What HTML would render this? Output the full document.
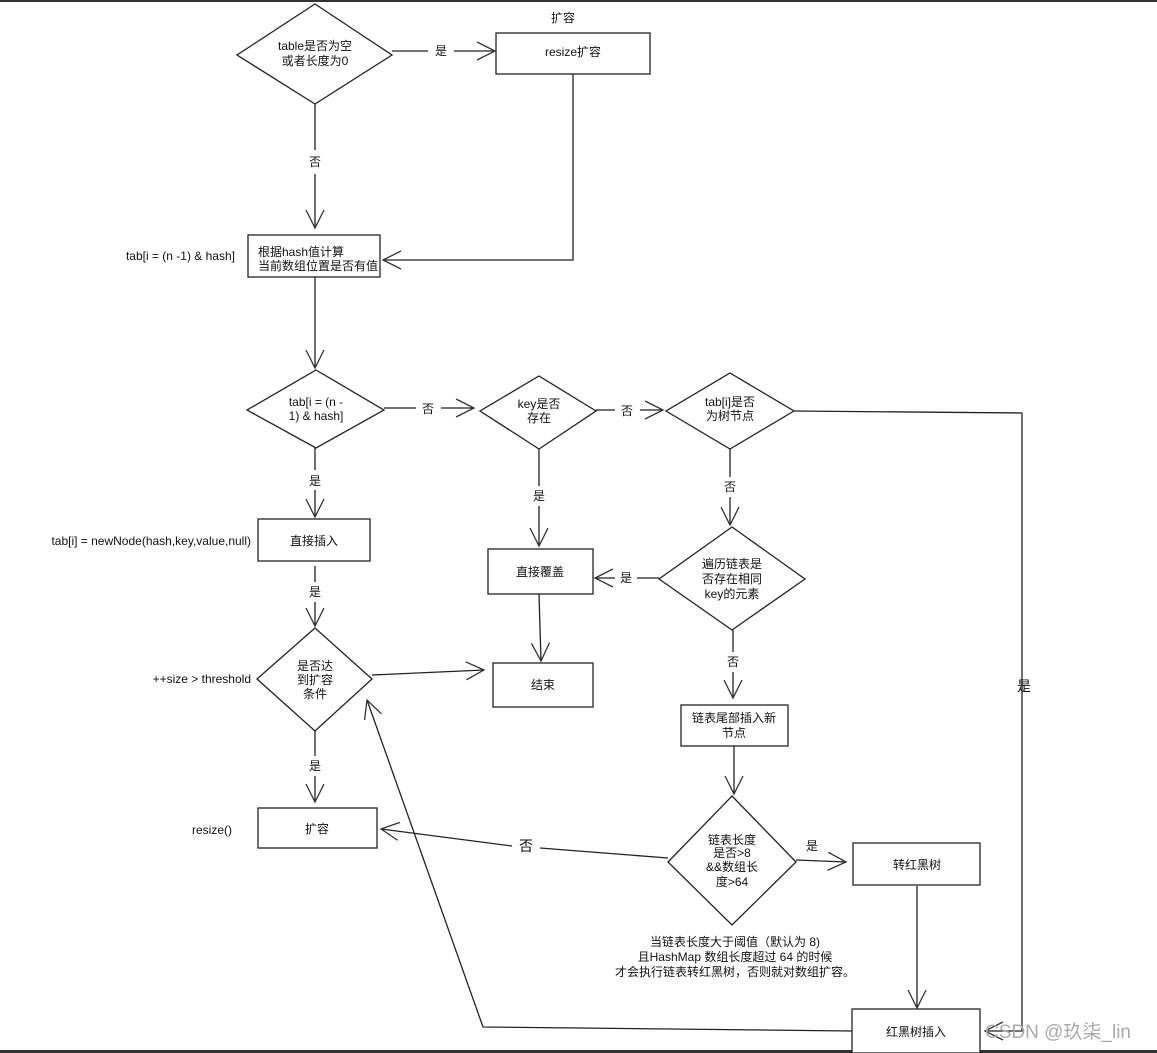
<!DOCTYPE html>
<html><head><meta charset="utf-8"><style>
html,body{margin:0;padding:0;background:#fff;width:1157px;height:1053px;overflow:hidden}
svg text{font-family:"Liberation Sans","Noto Sans CJK SC",sans-serif;font-size:12px;fill:#111}
</style></head><body>
<svg width="1157" height="1053" viewBox="0 0 1157 1053" xmlns="http://www.w3.org/2000/svg">
<defs>
<marker id="a" viewBox="0 0 20 20" refX="19" refY="10" markerWidth="22" markerHeight="20" markerUnits="userSpaceOnUse" orient="auto">
<path d="M1,1 L19,10 L1,19" fill="none" stroke="#333" stroke-width="1.3"/>
</marker>
</defs>
<rect x="0" y="0" width="1157" height="2" fill="#333"/>
<rect x="0" y="1050" width="1157" height="3" fill="#333"/>
<g fill="#fff" stroke="#222" stroke-width="1.3">
<polygon points="315,4 392,55 315,104 237,55"/>
<rect x="496" y="33" width="154" height="41"/>
<rect x="248" y="235" width="132" height="42"/>
<polygon points="316,370 384,410 316,448 247,410"/>
<polygon points="539,376 596,411 539,449 480,411"/>
<polygon points="730,373 794,411 730,449 666,411"/>
<rect x="258" y="519" width="112" height="42"/>
<rect x="488" y="549" width="105" height="45"/>
<polygon points="732,527 805,579 732,630 659,579"/>
<polygon points="315,628 372,679 315,731 257,679"/>
<rect x="493" y="663" width="100" height="44"/>
<rect x="681" y="705" width="107" height="41"/>
<rect x="258" y="808" width="119" height="40"/>
<polygon points="732,796 796,862 732,925 668,862"/>
<rect x="853" y="843" width="127" height="42"/>
<rect x="852" y="1009" width="128" height="44"/>
</g>
<g fill="none" stroke="#222" stroke-width="1.3">
<path d="M392,51 H428 M454,51 H495" marker-end="url(#a)"/>
<path d="M315,104 V150 M315,174 V228" marker-end="url(#a)"/>
<path d="M573,74 V260 H383" marker-end="url(#a)"/>
<path d="M315,277 V368" marker-end="url(#a)"/>
<path d="M384,408 H416 M441,408 H474" marker-end="url(#a)"/>
<path d="M596,410 H615 M640,410 H663" marker-end="url(#a)"/>
<path d="M794,411 L1022,413 V1031 H985" marker-end="url(#a)"/>
<path d="M315,448 V470 M315,490 V517" marker-end="url(#a)"/>
<path d="M539,449 V486 M539,506 V546" marker-end="url(#a)"/>
<path d="M730,449 V477 M730,497 V525" marker-end="url(#a)"/>
<path d="M659,578 H637 M615,578 H595" marker-end="url(#a)"/>
<path d="M315,566 V582 M315,602 V626" marker-end="url(#a)"/>
<path d="M539,594 L541,661" marker-end="url(#a)"/>
<path d="M372,675 L484,670" marker-end="url(#a)"/>
<path d="M733,630 V652 M733,672 V698" marker-end="url(#a)"/>
<path d="M315,731 V756 M315,776 V802" marker-end="url(#a)"/>
<path d="M734,746 V794" marker-end="url(#a)"/>
<path d="M796,860 L846,862" marker-end="url(#a)"/>
<path d="M668,858 L540,848 M512,846 L381,829" marker-end="url(#a)"/>
<path d="M917,886 V1008" marker-end="url(#a)"/>
<path d="M852,1031 L483,1027 L367,700" marker-end="url(#a)"/>
</g>
<g text-anchor="middle">
<text x="563" y="22">扩容</text>
<text x="315" y="50">table是否为空</text>
<text x="315" y="65">或者长度为0</text>
<text x="441" y="55">是</text>
<text x="573" y="56">resize扩容</text>
<text x="315" y="166">否</text>
<text x="428" y="413">否</text>
<text x="627" y="415">否</text>
<text x="316" y="406">tab[i = (n -</text>
<text x="316" y="420">1) &amp; hash]</text>
<text x="539" y="408">key是否</text>
<text x="539" y="422">存在</text>
<text x="730" y="406">tab[i]是否</text>
<text x="730" y="420">为树节点</text>
<text x="315" y="485">是</text>
<text x="539" y="500">是</text>
<text x="730" y="491">否</text>
<text x="314" y="545">直接插入</text>
<text x="540" y="576">直接覆盖</text>
<text x="626" y="582">是</text>
<text x="732" y="568">遍历链表是</text>
<text x="732" y="583">否存在相同</text>
<text x="732" y="598">key的元素</text>
<text x="315" y="596">是</text>
<text x="315" y="670">是否达</text>
<text x="315" y="684">到扩容</text>
<text x="315" y="698">条件</text>
<text x="543" y="689">结束</text>
<text x="733" y="666">否</text>
<text x="734" y="722">链表尾部插入新</text>
<text x="734" y="737">节点</text>
<text x="1024" y="691" style="font-size:14px">是</text>
<text x="315" y="770">是</text>
<text x="317" y="833">扩容</text>
<text x="526" y="851" style="font-size:14px">否</text>
<text x="732" y="844">链表长度</text>
<text x="732" y="857">是否&gt;8</text>
<text x="732" y="871">&amp;&amp;数组长</text>
<text x="732" y="886">度&gt;64</text>
<text x="812" y="850">是</text>
<text x="917" y="869">转红黑树</text>
<text x="735" y="946">当链表长度大于阈值（默认为 8)</text>
<text x="735" y="961">且HashMap 数组长度超过 64 的时候</text>
<text x="735" y="976">才会执行链表转红黑树，否则就对数组扩容。</text>
<text x="916" y="1036">红黑树插入</text>
</g>
<g text-anchor="end">
<text x="235" y="260">tab[i = (n -1) &amp; hash]</text>
<text x="251" y="545">tab[i] = newNode(hash,key,value,null)</text>
<text x="251" y="683">++size &gt; threshold</text>
<text x="232" y="834">resize()</text>
</g>
<text x="985" y="1038" style="font-size:19px;fill:#aaa">CSDN @玖柒_lin</text>
<text x="258" y="256">根据hash值计算</text>
<text x="258" y="270">当前数组位置是否有值</text>
</svg>
</body></html>
